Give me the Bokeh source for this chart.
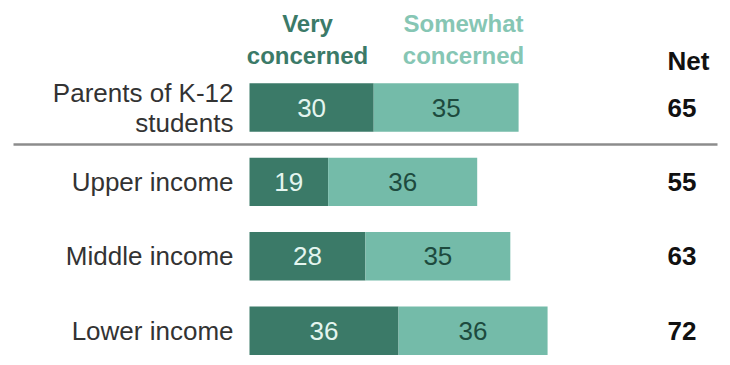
from bokeh.plotting import figure
from bokeh.models import Range1d, ColumnDataSource
from bokeh.core.properties import value
from bokeh.embed import file_html
from bokeh.resources import INLINE

categories = ["Parents of K-12\nstudents", "Upper income", "Middle income", "Lower income"]
very = [30, 19, 28, 36]
somewhat = [35, 36, 35, 36]
net = [v + s for v, s in zip(very, somewhat)]
series_labels = ["Very\nconcerned", "Somewhat\nconcerned"]
net_label = "Net"

DARK = "#3b7a68"
LIGHT = "#74bba9"
FONT = "Liberation Sans"

W, H = 722, 357
PX_PER_UNIT = 4.14
BAR_X0_PX = 249
ROW0_PX = 107
ROW_PX = 74.4

x_start = -BAR_X0_PX / PX_PER_UNIT
x_end = (W - BAR_X0_PX) / PX_PER_UNIT
y_top = -ROW0_PX / ROW_PX
y_bot = (H - ROW0_PX) / ROW_PX


def xu(px):
    return (px - BAR_X0_PX) / PX_PER_UNIT


def yu(px):
    return (px - ROW0_PX) / ROW_PX


p = figure(width=W, height=H, output_backend="svg", toolbar_location=None,
           x_range=Range1d(x_start, x_end), y_range=Range1d(y_bot, y_top),
           min_border=0)
p.axis.visible = False
p.grid.visible = False
p.outline_line_color = None
p.background_fill_color = "white"
p.border_fill_color = "white"

rows = list(range(len(categories)))
src = ColumnDataSource(dict(
    y=rows, cat=categories, very=very, somewhat=somewhat,
    end=net, very_mid=[v / 2 for v in very],
    some_mid=[v + s / 2 for v, s in zip(very, somewhat)],
    very_txt=[str(v) for v in very], some_txt=[str(s) for s in somewhat],
    net_txt=[str(n) for n in net], zero=[0] * len(rows),
    net_x=[xu(667)] * len(rows),
))

bh = 0.65
p.hbar(y="y", left="zero", right="very", height=bh, source=src,
       fill_color=DARK, line_color=None)
p.hbar(y="y", left="very", right="end", height=bh, source=src,
       fill_color=LIGHT, line_color=None)

p.text(x="very_mid", y="y", text="very_txt", source=src, text_align="center",
       text_baseline="middle", text_font=value(FONT), text_font_size="26px",
       text_color="#e4f5ef")
p.text(x="some_mid", y="y", text="some_txt", source=src, text_align="center",
       text_baseline="middle", text_font=value(FONT), text_font_size="26px",
       text_color="#1d4a3e")

p.text(x="zero", y="y", text="cat", source=src, x_offset=-16,
       text_align="right", text_baseline="middle", text_font=value(FONT),
       text_font_size="26px", text_color="#333333", text_line_height=1.0)

p.text(x="net_x", y="y", text="net_txt", source=src,
       text_align="left", text_baseline="middle", text_font=value(FONT),
       text_font_size="26px", text_font_style="bold", text_color="#111111")

head_y = yu(39)
p.text(x=[xu(307), xu(463)], y=[head_y, head_y], text=series_labels,
       text_align="center", text_baseline="middle", text_font=value(FONT),
       text_font_size="24px", text_font_style="bold",
       text_color=[DARK, "#86c6b4"], text_line_height=1.15)
p.text(x=[xu(667)], y=[yu(60)], text=[net_label],
       text_align="left", text_baseline="middle", text_font=value(FONT),
       text_font_size="26px", text_font_style="bold", text_color="#111111")

sep_y = yu(144)
p.segment(x0=[xu(13)], x1=[xu(717)], y0=[sep_y], y1=[sep_y],
          line_color="#8c8c8c", line_width=2.5)

open("out.html", "w").write(file_html(p, INLINE))
